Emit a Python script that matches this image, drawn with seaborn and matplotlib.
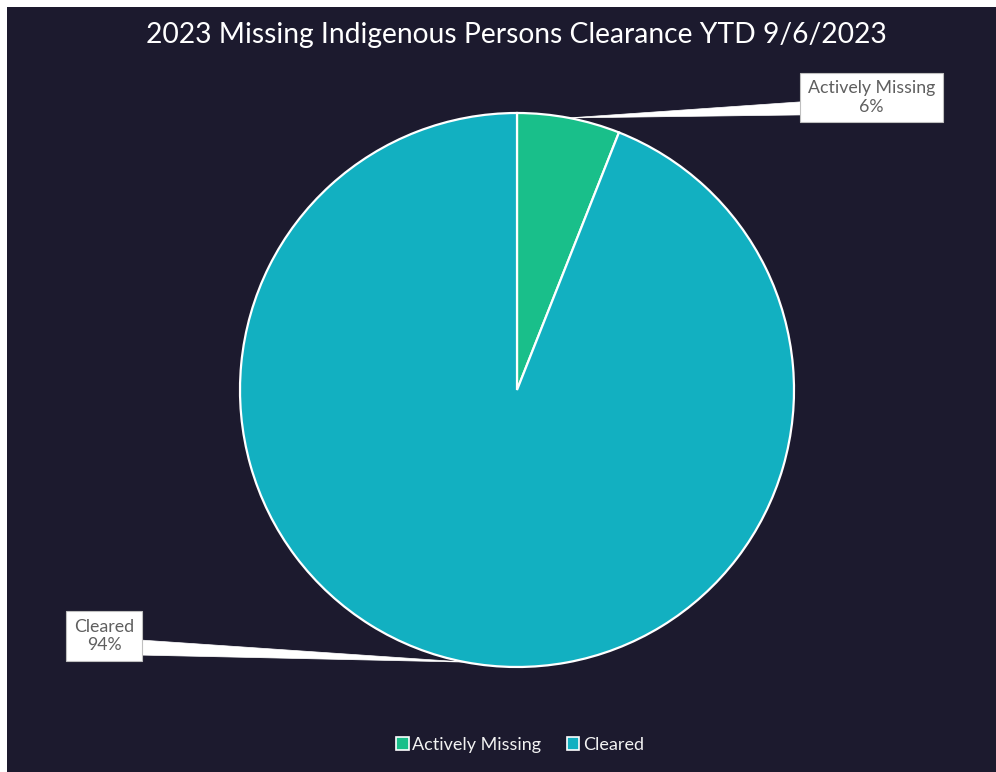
import numpy as np
import matplotlib
matplotlib.use("Agg")
import matplotlib.pyplot as plt
from matplotlib.patches import Rectangle, Polygon, Patch
import seaborn as sns

# data
labels = ["Actively Missing", "Cleared"]
values = [6, 94]
colors = ["#19bf8a", "#12b0c1"]
title = "2023 Missing Indigenous Persons Clearance YTD 9/6/2023"

sns.set_theme(style="white")
plt.rcParams["font.family"] = ["Lato", "DejaVu Sans"]

bg = "#1c1a2e"
W, H = 996, 772
fig = plt.figure(figsize=(W / 100, H / 100), dpi=100, facecolor="white")
# dark panel with thin white strip at top and left
fig.patches.append(Rectangle((7 / W, 0), 1, 1 - 7 / H, transform=fig.transFigure,
                             facecolor=bg, edgecolor="none", zorder=-10))

# pie axes: centre (517, 390) px, radius 277 px
cx, cy, r = 517, 390, 277
ax = fig.add_axes([(cx - r) / W, (H - cy - r) / H, 2 * r / W, 2 * r / H])
ax.set_zorder(2)
ax.set_facecolor("none")
wedges, _ = ax.pie(values, colors=colors, startangle=90, counterclock=False,
                   wedgeprops=dict(edgecolor="white", linewidth=1.6))
ax.set_xlim(-1, 1)
ax.set_ylim(-1, 1)
ax.set_aspect("equal")
ax.axis("off")

# callout boxes (centre in axes data units) and leader attach points
box_pos = [(1.28, 1.056), (-1.491, -0.888)]
attach = [((1.022, 1.040), (1.022, 0.993)), ((-1.354, -0.903), (-1.354, -0.957))]
total = sum(values)
for w, lab, v, (bx, by), (p1, p2) in zip(wedges, labels, values, box_pos, attach):
    mid = np.deg2rad((w.theta1 + w.theta2) / 2)
    tip = (np.cos(mid), np.sin(mid))
    ax.add_patch(Polygon([p1, p2, tip], closed=True, facecolor="white",
                         edgecolor="white", linewidth=0.5, clip_on=False, zorder=3))
    ax.text(bx, by, f"{lab}\n{v / total:.0%}", ha="center", va="center",
            fontsize=12.8, color="#5f5f5f", linespacing=1.2, zorder=4,
            bbox=dict(boxstyle="square,pad=0.42", facecolor="white",
                      edgecolor="#bfbfbf", linewidth=0.8), clip_on=False)

fig.text(0.518, 1 - 35 / H, title, ha="center", va="center",
         fontsize=20.3, color="white")

handles = [Patch(facecolor=c, edgecolor="white", linewidth=1.2) for c in colors]
fig.legend(handles, labels, loc="center", bbox_to_anchor=(0.522, 1 - 745 / H),
           ncol=2, frameon=False, fontsize=13, labelcolor="#f2f2f2",
           handlelength=0.7, handleheight=0.7, handletextpad=0.2,
           columnspacing=1.4)

fig.savefig("out.png", dpi=100, facecolor=fig.get_facecolor())
